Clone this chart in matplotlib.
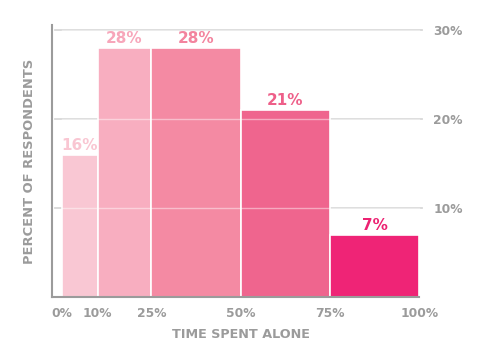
import matplotlib
matplotlib.use("Agg")
import matplotlib.pyplot as plt

matplotlib.rcParams["font.family"] = ["DejaVu Sans"]

# data
bin_edges = [0, 10, 25, 50, 75, 100]
percent = [16, 28, 28, 21, 7]
bar_colors = ["#f9c7d3", "#f8aec0", "#f48aa3", "#ef658e", "#ef2476"]
label_colors = ["#f9c6d2", "#f7a6ba", "#f3849e", "#ee5f89", "#ec2272"]
x_ticks = [0, 10, 25, 50, 75, 100]
x_ticklabels = ["0%", "10%", "25%", "50%", "75%", "100%"]
y_ticks = [10, 20, 30]
y_ticklabels = ["10%", "20%", "30%"]

gray = "#9b9b9b"

fig = plt.figure(figsize=(5, 3.55), dpi=100)
ax = fig.add_axes([0.104, 0.1634, 0.74, 0.765])

lefts = bin_edges[:-1]
widths = [b - a for a, b in zip(bin_edges[:-1], bin_edges[1:])]
ax.bar(lefts, percent, width=widths, align="edge", color=bar_colors,
       edgecolor="white", linewidth=1.2, zorder=2)

for x0, w, p, c in zip(lefts, widths, percent, label_colors):
    ax.text(x0 + w / 2, p + 0.2, f"{p}%", ha="center", va="bottom",
            color=c, fontsize=11, fontweight="bold", zorder=4)

# grid: gray behind, faint white across the bars
for y in y_ticks:
    ax.plot([-2.0, 100.8], [y, y], color="#d8d8d8", lw=1.3, zorder=1, clip_on=False)
    ax.plot([0, 100], [y, y], color="white", lw=1.0, alpha=0.45, zorder=3)

ax.set_xlim(-2.8, 100.8)
ax.set_ylim(0, 30.5)

for s in ["top", "right"]:
    ax.spines[s].set_visible(False)
for s in ["left", "bottom"]:
    ax.spines[s].set_color(gray)
    ax.spines[s].set_linewidth(1.5)
ax.spines["bottom"].set_bounds(-2.8, 100)

ax.set_xticks(x_ticks)
ax.set_xticklabels(x_ticklabels)
ax.set_yticks(y_ticks)
ax.set_yticklabels(y_ticklabels)
ax.tick_params(axis="x", length=0, pad=7, labelsize=8.8, labelcolor=gray)
ax.tick_params(axis="y", length=0, pad=8, labelsize=8.8, labelcolor=gray,
               left=False, labelleft=False, right=False, labelright=True)
for t in ax.get_xticklabels() + ax.get_yticklabels():
    t.set_fontweight("bold")

fig.text(241 / 500, 1 - 335 / 355, "TIME SPENT ALONE", ha="center", va="center",
         color=gray, fontsize=9.2, fontweight="bold")
fig.text(30 / 500, 1 - 161 / 355, "PERCENT OF RESPONDENTS", ha="center", va="center",
         rotation=90, color=gray, fontsize=9.4, fontweight="bold")

fig.savefig("out.png", dpi=100)
